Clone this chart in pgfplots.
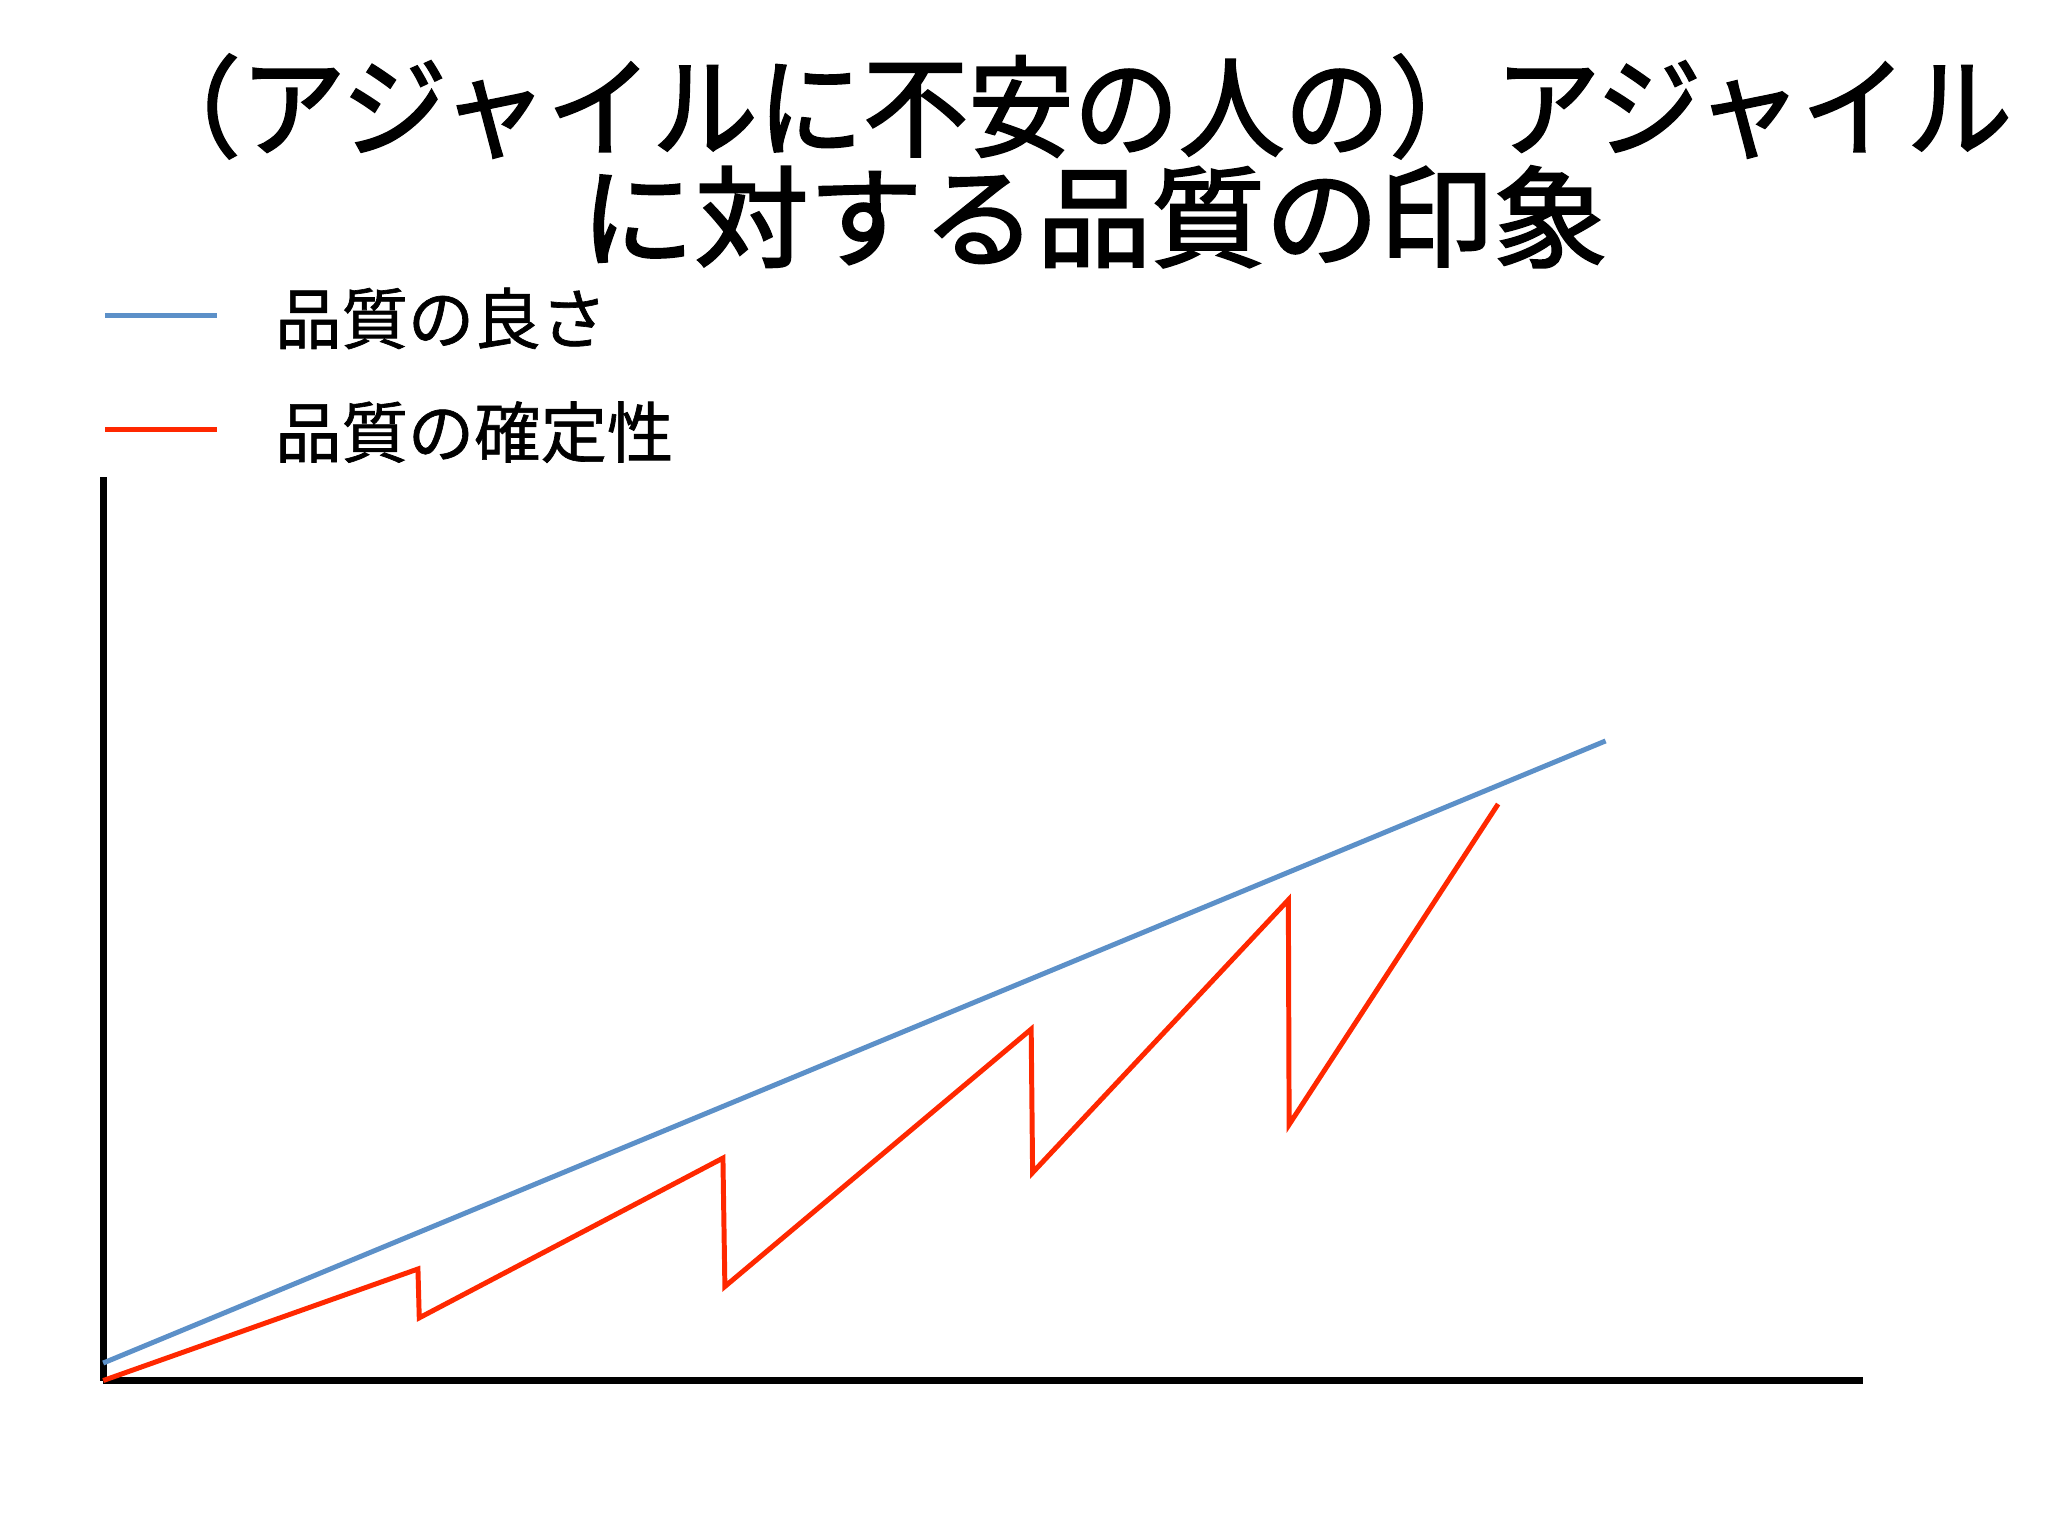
\documentclass[border=0pt]{standalone}
\usepackage{fontspec}
\setmainfont{Noto Sans CJK JP}
\newfontfamily\legendfont[FakeBold=1]{Noto Sans CJK JP}
\newfontfamily\titlefont[FakeBold=2]{Noto Sans CJK JP}
\usepackage{pgfplots}
\pgfplotsset{compat=1.18}

\definecolor{goodblue}{RGB}{92,144,200}
\definecolor{surered}{RGB}{255,40,0}

\begin{document}
\begin{tikzpicture}
\begin{axis}[
  scale only axis,
  width=336.75pt,
  height=172.9pt,
  xmin=0, xmax=1347,
  ymin=0, ymax=691.6,
  axis x line=bottom,
  axis y line=left,
  axis line style={-, line width=1.37pt, black},
  xtick=\empty, ytick=\empty,
  clip=false,
  legend style={draw=none, fill=none, inner sep=0pt, outer sep=0pt,
    at={(axis cs:-0.3,771.8)}, anchor=west,
    font=\legendfont\fontsize{12.7pt}{14pt}\selectfont,
    nodes={inner sep=0pt, text height=12pt, text depth=1.3pt},
    row sep=8.45pt, /tikz/column sep=10.6pt},
  legend cell align=left,
  legend image code/.code={\draw[#1, line width=0.95pt] (0pt,0pt) -- (21.45pt,0pt);},
]
% 品質の良さ
\addplot[goodblue, line width=0.95pt] coordinates {
  (0,13.4) (1150.3,489.7)
};
\addlegendentry{品質の良さ}
% 品質の確定性
\addplot[surered, line width=0.95pt, line join=miter] coordinates {
  (0,0) (241,85.4) (242,48) (474.5,170.3) (476,72)
  (710.5,269) (711.6,159.2) (907.4,368) (908,196) (1068,441.4)
};
\addlegendentry{品質の確定性}

\node[inner sep=0pt, anchor=center, font=\titlefont\fontsize{21pt}{21pt}\selectfont]
  at (axis cs:743,975.5) {\scalebox{0.96}[1]{（アジャイルに不安の人の）アジャイル}};
\node[inner sep=0pt, anchor=center, font=\titlefont\fontsize{21pt}{21pt}\selectfont]
  at (axis cs:758.5,891) {\scalebox{1.04}[1]{に対する品質の印象}};

\path (axis cs:-79,-119) rectangle (axis cs:1489,1057);
\end{axis}
\end{tikzpicture}
\end{document}
